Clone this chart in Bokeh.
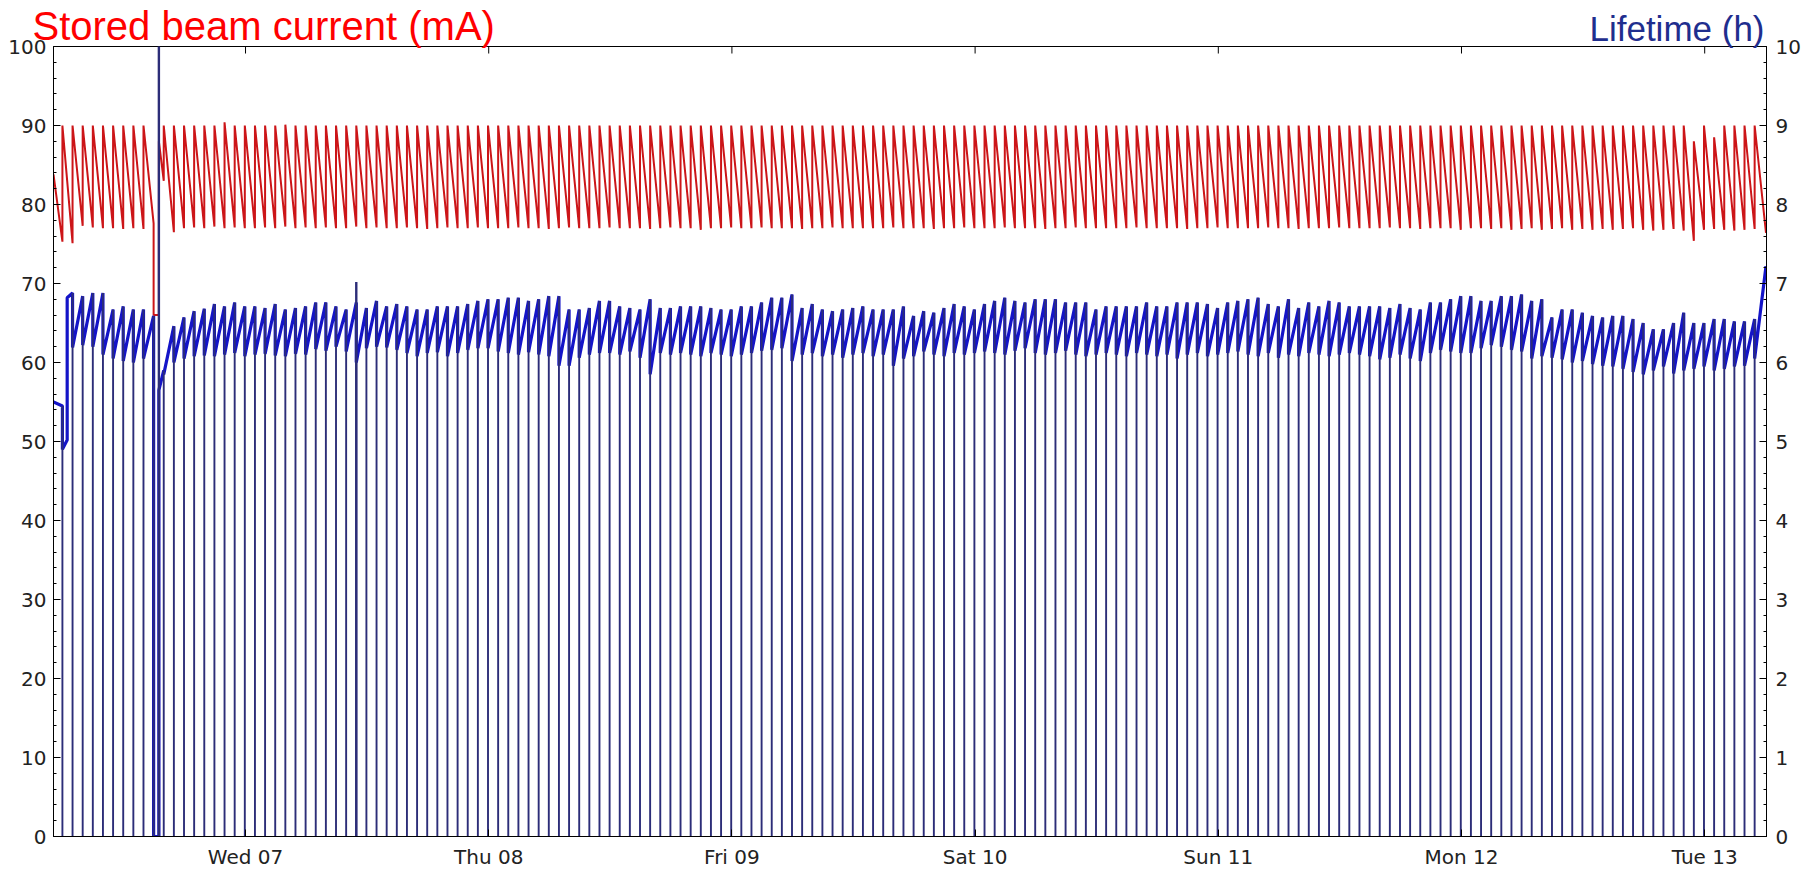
from bokeh.plotting import figure
from bokeh.models import (Range1d, LinearAxis, FixedTicker, SingleIntervalTicker,
                          Title, ColumnDataSource)
from bokeh.embed import file_html
from bokeh.resources import INLINE
import math

# ---------------- data (hours relative to Wed 07 00:00) ----------------
day_labels = ["Wed 07", "Thu 08", "Fri 09", "Sat 10", "Sun 11", "Mon 12", "Tue 13"]
day_ticks_h = [0, 24, 48, 72, 96, 120, 144]

record_start_h = -18.95
record_end_h = 150.05

seg_start_h = [
    -18.95, -18.07, -17.60, -17.07, -16.07, -15.07, -14.07, -13.07, -12.07, -11.07, -10.07, -9.07, -8.55,
    -8.07, -7.07, -6.07, -5.07, -4.07, -3.07, -2.07, -1.07, -0.07,
    0.93, 1.93, 2.93, 3.93, 4.93, 5.93, 6.93, 7.93, 8.93, 9.93, 10.93, 11.93,
    12.93, 13.93, 14.93, 15.93, 16.93, 17.93, 18.93, 19.93, 20.93, 21.93, 22.93, 23.93,
    24.93, 25.93, 26.93, 27.93, 28.93, 29.93, 30.93, 31.93, 32.93, 33.93, 34.93, 35.93,
    36.93, 37.93, 38.93, 39.93, 40.93, 41.93, 42.93, 43.93, 44.93, 45.93, 46.93, 47.93,
    48.93, 49.93, 50.93, 51.93, 52.93, 53.93, 54.93, 55.93, 56.93, 57.93, 58.93, 59.93,
    60.93, 61.93, 62.93, 63.93, 64.93, 65.93, 66.93, 67.93, 68.93, 69.93, 70.93, 71.93,
    72.93, 73.93, 74.93, 75.93, 76.93, 77.93, 78.93, 79.93, 80.93, 81.93, 82.93, 83.93,
    84.93, 85.93, 86.93, 87.93, 88.93, 89.93, 90.93, 91.93, 92.93, 93.93, 94.93, 95.93,
    96.93, 97.93, 98.93, 99.93, 100.93, 101.93, 102.93, 103.93, 104.93, 105.93, 106.93, 107.93,
    108.93, 109.93, 110.93, 111.93, 112.93, 113.93, 114.93, 115.93, 116.93, 117.93, 118.93, 119.93,
    120.93, 121.93, 122.93, 123.93, 124.93, 125.93, 126.93, 127.93, 128.93, 129.93, 130.93, 131.93,
    132.93, 133.93, 134.93, 135.93, 136.93, 137.93, 138.93, 139.93, 140.93, 141.93, 142.93, 143.93,
    144.93, 145.93, 146.93, 147.93, 148.93,
]
no_injection_h = [-18.95, -17.60]

cur_start = [
    83.8, 90.0, 83.0, 90.0, 90.0, 90.0, 90.0, 90.0, 90.0, 90.0, 90.0, 66.0, 88.0,
    90.0, 90.0, 90.0, 90.0, 90.0, 90.0, 90.4, 90.0, 90.0,
    90.0, 90.0, 90.0, 90.1, 90.0, 90.0, 90.0, 90.0, 90.0, 90.0, 90.0, 90.0,
    90.0, 90.0, 90.0, 90.0, 90.0, 90.0, 90.0, 90.0, 90.0, 90.0, 90.0, 90.0,
    90.0, 90.0, 90.0, 90.0, 90.0, 90.0, 90.0, 90.0, 90.0, 90.0, 90.0, 90.0,
    90.0, 90.0, 90.0, 90.0, 90.0, 90.0, 90.0, 90.0, 90.0, 90.0, 90.0, 90.0,
    90.0, 90.0, 90.0, 90.0, 90.0, 90.0, 90.0, 90.0, 90.0, 90.0, 90.0, 90.0,
    90.0, 90.0, 90.0, 90.0, 90.0, 90.0, 90.0, 90.0, 90.0, 90.0, 90.0, 90.0,
    90.0, 90.0, 90.0, 90.0, 90.0, 90.0, 90.0, 90.0, 90.0, 90.0, 90.0, 90.0,
    90.0, 90.0, 90.0, 90.0, 90.0, 90.0, 90.0, 90.0, 90.0, 90.0, 90.0, 90.0,
    90.0, 90.0, 90.0, 90.0, 90.0, 90.0, 90.0, 90.0, 90.0, 90.0, 90.0, 90.0,
    90.0, 90.0, 90.0, 90.0, 90.0, 90.0, 90.0, 90.0, 90.0, 90.0, 90.0, 90.0,
    90.0, 90.0, 90.0, 90.0, 90.0, 90.0, 90.0, 90.0, 90.0, 90.0, 90.0, 90.0,
    90.0, 90.0, 90.0, 90.0, 90.0, 90.0, 90.0, 90.0, 90.0, 90.0, 88.0, 90.0,
    88.5, 90.0, 90.0, 90.0, 90.0,
]
cur_end = [
    75.3, 83.0, 75.1, 77.3, 77.1, 77.0, 77.0, 76.9, 77.0, 76.9, 77.6, 66.0, 83.0,
    76.5, 77.0, 77.1, 77.0, 77.2, 77.0, 77.1, 77.0, 77.0,
    77.1, 77.0, 77.2, 77.0, 77.1, 77.0, 77.1, 77.0, 77.0, 77.2, 77.0, 77.1,
    77.0, 77.0, 77.1, 77.0, 76.9, 77.0, 77.1, 77.0, 77.0, 77.1, 77.0, 77.0,
    77.0, 77.1, 77.0, 77.0, 76.9, 77.0, 77.1, 77.0, 77.0, 77.0, 77.1, 77.0,
    77.0, 77.0, 76.9, 77.0, 77.1, 77.0, 77.0, 76.8, 77.0, 77.0, 77.1, 77.0,
    77.0, 77.1, 77.0, 77.0, 77.0, 76.9, 77.0, 77.0, 77.1, 77.0, 77.0, 77.0,
    77.0, 77.0, 77.1, 77.0, 77.0, 77.0, 76.9, 77.0, 77.0, 77.1, 77.0, 77.0,
    77.0, 77.1, 77.0, 77.0, 77.0, 76.9, 77.0, 77.0, 77.1, 77.0, 77.0, 77.0,
    77.0, 77.0, 77.1, 77.0, 77.0, 77.0, 77.0, 76.9, 77.0, 77.0, 77.1, 77.0,
    77.0, 77.0, 77.0, 77.1, 77.0, 77.0, 76.9, 77.0, 77.0, 77.0, 77.1, 77.0,
    77.0, 77.0, 77.0, 77.1, 77.0, 77.0, 76.9, 77.0, 77.0, 77.0, 76.8, 77.0,
    77.0, 76.9, 77.0, 76.8, 76.9, 77.0, 76.8, 76.9, 77.0, 76.8, 76.9, 76.8,
    76.9, 76.8, 76.9, 77.0, 76.8, 76.7, 76.8, 76.9, 76.7, 75.4, 76.8, 76.9,
    76.8, 76.7, 76.8, 76.9, 76.4,
]

life_start = [
    5.50, 4.90, 6.82, 6.19, 6.22, 6.20, 6.10, 6.05, 6.02, 6.00, 6.05, 0.0, 5.65,
    5.85, 6.00, 6.05, 6.08, 6.09, 6.08, 6.10, 6.12, 6.08,
    6.10, 6.11, 6.09, 6.08, 6.11, 6.10, 6.17, 6.15, 6.20, 6.14, 6.00, 6.18,
    6.20, 6.19, 6.16, 6.12, 6.08, 6.12, 6.13, 6.08, 6.12, 6.16, 6.18, 6.18,
    6.14, 6.12, 6.10, 6.13, 6.10, 6.08, 5.96, 5.96, 6.06, 6.10, 6.12, 6.12,
    6.10, 6.14, 6.06, 5.85, 6.12, 6.10, 6.12, 6.10, 6.08, 6.12, 6.10, 6.08,
    6.10, 6.12, 6.15, 6.16, 6.18, 6.02, 6.10, 6.12, 6.08, 6.10, 6.06, 6.10,
    6.12, 6.08, 6.10, 5.96, 6.05, 6.08, 6.14, 6.10, 6.08, 6.12, 6.10, 6.12,
    6.14, 6.12, 6.10, 6.15, 6.18, 6.12, 6.10, 6.12, 6.15, 6.10, 6.08, 6.10,
    6.12, 6.10, 6.08, 6.12, 6.10, 6.08, 6.10, 6.05, 6.10, 6.12, 6.08, 6.10,
    6.12, 6.14, 6.10, 6.08, 6.12, 6.06, 6.10, 6.08, 6.12, 6.10, 6.08, 6.10,
    6.12, 6.10, 6.08, 6.04, 6.06, 6.10, 6.05, 6.02, 6.12, 6.16, 6.14, 6.12,
    6.12, 6.18, 6.22, 6.20, 6.16, 6.14, 6.05, 6.08, 6.06, 6.04, 6.00, 6.02,
    5.98, 5.96, 5.95, 5.92, 5.88, 5.85, 5.90, 5.95, 5.86, 5.90, 5.92, 5.95,
    5.90, 5.92, 5.95, 5.96, 6.05,
]
life_end = [
    5.45, 5.02, 6.88, 6.84, 6.88, 6.88, 6.67, 6.71, 6.67, 6.67, 6.59, 0.0, 5.90,
    6.46, 6.57, 6.65, 6.68, 6.74, 6.71, 6.76, 6.71, 6.71,
    6.69, 6.74, 6.67, 6.69, 6.71, 6.76, 6.76, 6.71, 6.67, 6.76, 6.69, 6.78,
    6.71, 6.74, 6.71, 6.67, 6.67, 6.71, 6.71, 6.71, 6.74, 6.78, 6.80, 6.80,
    6.82, 6.82, 6.78, 6.80, 6.84, 6.84, 6.67, 6.67, 6.69, 6.78, 6.78, 6.71,
    6.69, 6.67, 6.80, 6.69, 6.69, 6.71, 6.71, 6.71, 6.69, 6.67, 6.67, 6.71,
    6.71, 6.76, 6.82, 6.82, 6.86, 6.69, 6.74, 6.67, 6.65, 6.67, 6.69, 6.71,
    6.67, 6.67, 6.67, 6.71, 6.59, 6.65, 6.63, 6.69, 6.74, 6.71, 6.67, 6.74,
    6.78, 6.82, 6.78, 6.76, 6.80, 6.80, 6.80, 6.76, 6.76, 6.76, 6.67, 6.71,
    6.71, 6.71, 6.71, 6.76, 6.71, 6.71, 6.76, 6.76, 6.76, 6.74, 6.69, 6.76,
    6.78, 6.80, 6.82, 6.74, 6.71, 6.80, 6.69, 6.76, 6.71, 6.78, 6.76, 6.71,
    6.71, 6.71, 6.71, 6.69, 6.74, 6.69, 6.67, 6.76, 6.76, 6.80, 6.84, 6.84,
    6.78, 6.78, 6.84, 6.84, 6.86, 6.78, 6.80, 6.57, 6.67, 6.67, 6.63, 6.59,
    6.57, 6.59, 6.59, 6.55, 6.50, 6.42, 6.42, 6.50, 6.63, 6.50, 6.50, 6.55,
    6.55, 6.52, 6.52, 6.55, 7.22,
]

spike_h = [-8.55, 10.93]
spike_life = [11.0, 7.02]

assert len(seg_start_h) == len(cur_start) == len(cur_end) == len(life_start) == len(life_end)

# ---------------- build plotting tables ----------------
seg_end_h = seg_start_h[1:] + [record_end_h]
cur_x, cur_y, life_x, life_y = [], [], [], []
for a, b, c0, c1, l0, l1 in zip(seg_start_h, seg_end_h, cur_start, cur_end, life_start, life_end):
    cur_x += [a, b]
    cur_y += [c0, c1]
    life_x += [a, b]
    life_y += [l0, l1]

dip_x, dip_top = [], []
for i in range(1, len(seg_start_h)):
    if seg_start_h[i] not in no_injection_h:
        dip_x.append(seg_start_h[i])
        dip_top.append(life_end[i - 1])

dips = ColumnDataSource(dict(x=dip_x, top=dip_top))
spikes = ColumnDataSource(dict(x=spike_h, top=spike_life))

# ---------------- figure ----------------
FONT = "DejaVu Sans"
Y_MAX = 100
p = figure(width=1803, height=871, output_backend="svg", toolbar_location=None,
           x_range=Range1d(record_start_h, 150.1), y_range=Range1d(0, Y_MAX),
           min_border_left=53, min_border_right=36, min_border_top=46, min_border_bottom=30,
           background_fill_color="white", border_fill_color="white")
p.extra_y_ranges = {"life": Range1d(0, 10)}
p.xgrid.visible = False
p.ygrid.visible = False
p.outline_line_color = "black"
p.outline_line_width = 1

def style(ax, standoff):
    ax.axis_line_color = "black"
    ax.axis_line_width = 1
    ax.major_tick_in = 7
    ax.major_tick_out = 0
    ax.minor_tick_in = 3
    ax.minor_tick_out = 0
    ax.major_tick_line_color = "black"
    ax.minor_tick_line_color = "black"
    ax.major_label_text_font = FONT
    ax.major_label_text_font_size = "20px"
    ax.major_label_text_color = "#222222"
    ax.major_label_standoff = standoff

xb = p.xaxis[0]
xb.ticker = FixedTicker(ticks=day_ticks_h)
xb.major_label_overrides = {t: lab for t, lab in zip(day_ticks_h, day_labels)}
style(xb, 8)
xb.minor_tick_in = 0

yl = p.yaxis[0]
yl.ticker = SingleIntervalTicker(interval=10, num_minor_ticks=5)
style(yl, 7)

yr = LinearAxis(y_range_name="life", ticker=SingleIntervalTicker(interval=1, num_minor_ticks=5))
style(yr, 9)
p.add_layout(yr, "right")

# ---------------- glyphs ----------------
p.line(cur_x, cur_y, line_color="#cc1518", line_width=2.0)
p.line(life_x, life_y, y_range_name="life", line_color="#1414c8", line_width=3.2)
p.segment(x0="x", y0=0, x1="x", y1="top", source=dips, y_range_name="life",
          line_color="#2c2d78", line_width=1.9)
p.segment(x0="x", y0=0, x1="x", y1="top", source=spikes, y_range_name="life",
          line_color="#2c2d78", line_width=2.4)
# inward day ticks on the top edge of the frame (clipped half of a vertical dash)
p.scatter(x=day_ticks_h, y=[Y_MAX] * len(day_ticks_h), marker="dash", angle=math.pi / 2,
          size=14, line_color="black", line_width=1)

# ---------------- titles (both share the strip above the frame) ----------------
p.add_layout(Title(text="Lifetime (h)", align="right", offset=2, standoff=-2,
                   vertical_align="bottom", text_font="Liberation Sans",
                   text_font_size="35px", text_font_style="normal",
                   text_color="#1f2e8e"), "above")
p.add_layout(Title(text="Stored beam current (mA)", align="left", offset=-21, standoff=-80,
                   vertical_align="bottom", text_font="Liberation Sans",
                   text_font_size="40px", text_font_style="normal",
                   text_color="#ff0000"), "above")

open("out.html", "w").write(file_html(p, INLINE))
